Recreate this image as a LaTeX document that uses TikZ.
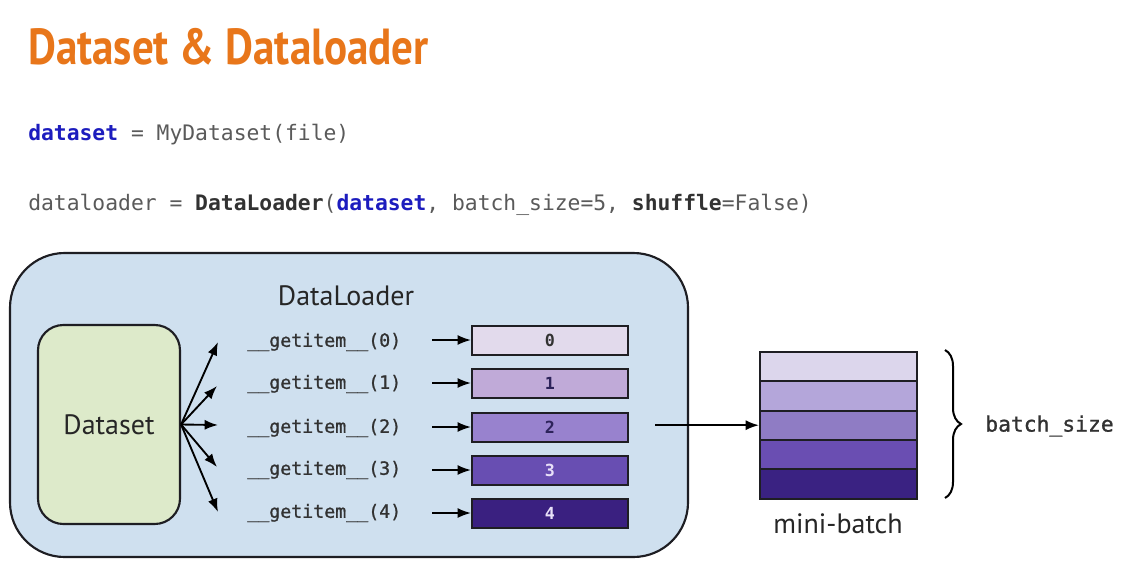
\documentclass[tikz,border=0pt]{standalone}
\usepackage{fontspec}
\setmainfont{PT Sans}
\newfontfamily\titlefont[FakeStretch=0.85]{PT Sans}
\newfontfamily\codefont{DejaVu Sans Mono}
\newfontfamily\codemed[FakeBold=1]{DejaVu Sans Mono}
\newfontfamily\labfont{PT Sans}
\usetikzlibrary{arrows.meta,decorations.pathreplacing}
\definecolor{titleorange}{RGB}{232,118,26}
\definecolor{kwblue}{RGB}{28,28,190}
\definecolor{codegrey}{RGB}{90,90,90}
\definecolor{codedark}{RGB}{50,50,50}
\definecolor{loaderfill}{RGB}{207,224,239}
\definecolor{dsfill}{RGB}{221,234,202}
\definecolor{edge}{RGB}{30,30,35}
\definecolor{c0}{RGB}{226,218,236}
\definecolor{c1}{RGB}{192,170,216}
\definecolor{c2}{RGB}{152,130,206}
\definecolor{c3}{RGB}{104,78,178}
\definecolor{c4}{RGB}{58,32,128}
\definecolor{m0}{RGB}{220,214,236}
\definecolor{m1}{RGB}{180,166,218}
\definecolor{m2}{RGB}{143,124,196}
\definecolor{m3}{RGB}{106,78,178}
\definecolor{m4}{RGB}{58,34,130}
\definecolor{darknum}{RGB}{45,35,90}
\definecolor{lightnum}{RGB}{232,224,248}
\begin{document}
\begin{tikzpicture}[x=0.75pt,y=-0.75pt,
  code/.style={inner sep=0pt, text=codegrey, font=\codefont\fontsize{16}{19}\selectfont},
  gi/.style={inner sep=0pt, text=codedark, font=\codemed\fontsize{13.7}{16}\selectfont},
  lab/.style={inner sep=0pt, text=black!85, font=\labfont\fontsize{21}{25}\selectfont},
  bigbox/.style={draw=edge, line width=1.6pt, fill=loaderfill, rounded corners=41pt,
                 minimum width=508.5pt, minimum height=228pt},
  dsbox/.style={draw=edge, line width=1.6pt, fill=dsfill, rounded corners=19pt,
                minimum width=106.5pt, minimum height=149.25pt, text=black!85,
                font=\labfont\fontsize{21}{25}\selectfont},
  item/.style={draw=edge, line width=1.5pt, minimum width=117pt, minimum height=21.75pt,
               inner sep=0pt, font=\codefont\bfseries\fontsize{12.5}{14}\selectfont},
  mb/.style={draw=edge, line width=1.5pt, minimum width=117.75pt, minimum height=22.05pt,
             inner sep=0pt},
  arr/.style={line width=1.4pt, draw=black, -{Latex[length=10pt,width=7.5pt]}},
  bracestyle/.style={line width=1.5pt, draw=black, decorate,
                     decoration={brace, amplitude=12pt}}
]
\fill[white] (0,0) rectangle (1121,576);
\useasboundingbox (0,0) rectangle (1121,576);

% title and code
\node[anchor=base west, inner sep=0pt, text=titleorange,
      font=\titlefont\bfseries\fontsize{38}{44}\selectfont] (title) at (28,64) {Dataset \& Dataloader};
\node[code, anchor=base west] (line1) at (28,140)
  {\textcolor{kwblue}{\bfseries dataset} = MyDataset(file)};
\node[code, anchor=base west] (line2) at (28,210)
  {dataloader = {\bfseries\color{codedark}DataLoader}(\textcolor{kwblue}{\bfseries dataset}, batch\_size=5, {\bfseries\color{codedark}shuffle}=False)};

% DataLoader box
\node[bigbox] (loader) at (349,405) {};
\node[lab] (loaderlabel) at (346,296) {DataLoader};
\node[dsbox] (dataset) at (109,424.5) {Dataset};

% fan arrows
\coordinate (f0) at (218,342);
\coordinate (f1) at (217,386);
\coordinate (f2) at (218,425);
\coordinate (f3) at (217,467);
\coordinate (f4) at (218,512);
\foreach \i in {0,...,4} { \draw[arr] (dataset.east) -- (f\i); }

% getitem labels
\node[gi, anchor=west] (g0) at (247,342) {\_\_getitem\_\_(0)};
\node[gi, anchor=west] (g1) at (247,384) {\_\_getitem\_\_(1)};
\node[gi, anchor=west] (g2) at (247,428) {\_\_getitem\_\_(2)};
\node[gi, anchor=west] (g3) at (247,470) {\_\_getitem\_\_(3)};
\node[gi, anchor=west] (g4) at (247,513) {\_\_getitem\_\_(4)};

% items
\node[item, fill=c0, text=codedark] (i0) at (550,340) {0};
\node[item, fill=c1, text=darknum] (i1) at (550,383) {1};
\node[item, fill=c2, text=darknum] (i2) at (550,427) {2};
\node[item, fill=c3, text=lightnum] (i3) at (550,470) {3};
\node[item, fill=c4, text=lightnum] (i4) at (550,513) {4};

\foreach \i/\y in {0/340,1/383,2/427,3/470,4/513} {
  \coordinate (s\i) at (432,\y);
  \draw[arr] (s\i) -- (i\i.west);
}

% mini-batch
\node[mb, fill=m0] (b0) at (838.5,366.4) {};
\node[mb, fill=m1] (b1) at (838.5,395.8) {};
\node[mb, fill=m2] (b2) at (838.5,425.2) {};
\node[mb, fill=m3] (b3) at (838.5,454.6) {};
\node[mb, fill=m4] (b4) at (838.5,484.0) {};
\coordinate (src) at (655,425.2);
\draw[arr] (src) -- (b2.west);
\node[lab] (mblabel) at (838,524) {mini-batch};

% brace
\coordinate (bt) at (945,350);
\coordinate (bb) at (945,498);
\draw[bracestyle] (bt) -- (bb);
\node[inner sep=0pt, anchor=west, text=codedark, font=\codemed\fontsize{16}{19}\selectfont] (bs) at (985,426) {batch\_size};
\end{tikzpicture}
\end{document}
